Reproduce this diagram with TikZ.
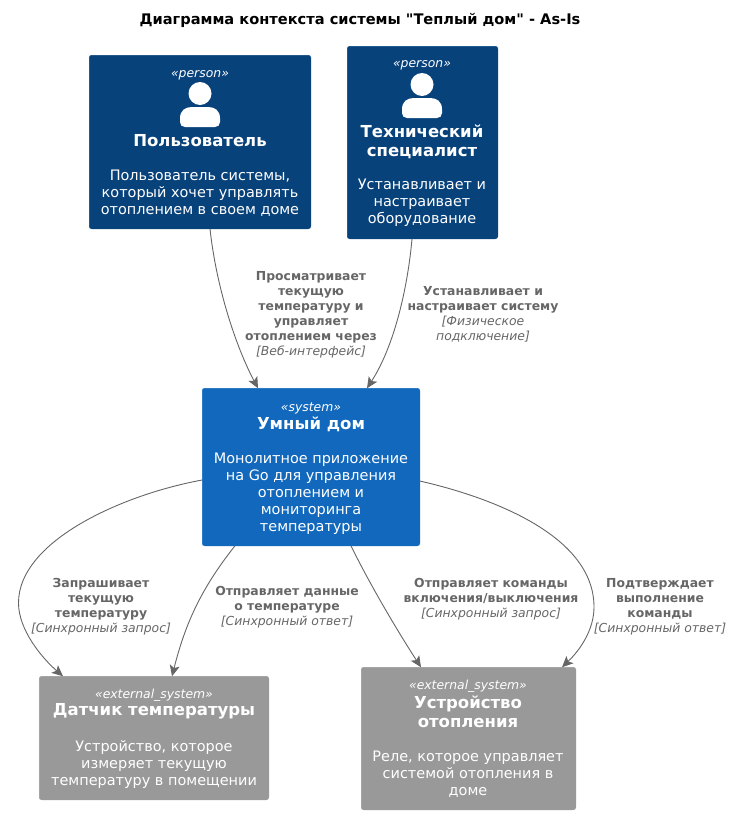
\documentclass[tikz,border=0pt]{standalone}
\usepackage{fontspec}
\setmainfont{DejaVu Sans}
\newfontfamily\headfont{DejaVu Sans}
\usetikzlibrary{arrows.meta}
\definecolor{personc}{HTML}{08427B}
\definecolor{systemc}{HTML}{1168BD}
\definecolor{extc}{HTML}{999999}
\definecolor{linkc}{HTML}{666666}
\tikzset{
  x=1pt,y=-1pt,
  box/.style={rectangle,rounded corners=2.5pt,inner sep=0pt,outer sep=0pt,draw=#1,fill=#1,line width=0.5pt},
  stereo/.style={font=\fontsize{12.4}{14}\selectfont\itshape,text=white,inner sep=0pt,anchor=center},
  title/.style={font=\fontsize{16.5}{19}\selectfont\bfseries,text=white,inner sep=0pt,align=center,anchor=center},
  descr/.style={font=\fontsize{14.45}{17}\selectfont,text=white,inner sep=0pt,align=center,anchor=center},
  link/.style={draw=linkc,line width=0.9pt,-{Stealth[length=11pt,width=10pt,inset=2.5pt,fill=linkc]}},
  lbl/.style={font=\fontsize{12.4}{15}\selectfont,text=linkc,inner sep=0pt,align=center,anchor=center},
  heading/.style={font=\headfont\fontsize{14.6}{17}\selectfont\bfseries,text=black,inner sep=0pt,anchor=center},
  icon/.style={fill=white,draw=none},
}
\newcommand{\personicon}[2]{%
  \fill[icon] (#1,#2) circle[radius=11.5];
  \fill[icon] (#1-20,#2+25)
     .. controls (#1-20,#2+17) and (#1-15,#2+13.5) .. (#1-8,#2+13.5)
     -- (#1+8,#2+13.5)
     .. controls (#1+15,#2+13.5) and (#1+20,#2+17) .. (#1+20,#2+25)
     -- (#1+20,#2+28.5)
     .. controls (#1+20,#2+31.5) and (#1+18,#2+33.5) .. (#1+15,#2+33.5)
     -- (#1-15,#2+33.5)
     .. controls (#1-18,#2+33.5) and (#1-20,#2+31.5) .. (#1-20,#2+28.5) -- cycle;
}
\newcommand{\lb}[1]{\textbf{#1}}
\newcommand{\tc}[1]{\textit{#1}}
\begin{document}
\begin{tikzpicture}
\useasboundingbox (0,0) rectangle (733,814);
\node[heading] (head) at (360,20.5) {Диаграмма контекста системы "Теплый дом" - As-Is};

\node[box=personc,minimum width=221.5pt,minimum height=173.5pt] (user) at (200,142) {};
\node[box=personc,minimum width=150.5pt,minimum height=192.5pt] (tech) at (422.5,142.5) {};
\node[box=systemc,minimum width=217.5pt,minimum height=157.5pt] (sys) at (311,467) {};
\node[box=extc,minimum width=229.5pt,minimum height=123.5pt] (sensor) at (154,738) {};
\node[box=extc,minimum width=214.5pt,minimum height=142.5pt] (heater) at (468.5,738.5) {};

\personicon{200}{93.5}
\personicon{422}{84.5}

\node[stereo] (s1) at (200,75) {«person»};
\node[title] (t1) at (200,141) {Пользователь};
\node[descr] (d1) at (200,193) {Пользователь системы,\\который хочет управлять\\отоплением в своем доме};

\node[stereo] (s2) at (422,65.5) {«person»};
\node[title] (t2) at (422,142) {Технический\\специалист};
\node[descr] (d2) at (422,203) {Устанавливает и\\настраивает\\оборудование};

\node[stereo] (s3) at (311,408.5) {«system»};
\node[title] (t3) at (311,424.5) {Умный дом};
\node[descr] (d3) at (311,494) {Монолитное приложение\\на Go для управления\\отоплением и\\мониторинга\\температуры};

\node[stereo] (s4) at (154,695.5) {«external\_system»};
\node[title] (t4) at (154,711) {Датчик температуры};
\node[descr] (d4) at (154,765) {Устройство, которое\\измеряет текущую\\температуру в помещении};

\node[stereo] (s5) at (468,686.5) {«external\_system»};
\node[title] (t5) at (468,712) {Устройство\\отопления};
\node[descr] (d5) at (468,774.5) {Реле, которое управляет\\системой отопления в\\доме};

\draw[link] ([xshift=10]user.south) .. controls (216,285) and (235,345) .. ([xshift=-53]sys.north);
\draw[link] ([xshift=-10.5]tech.south) .. controls (408,285) and (395,345) .. ([xshift=56]sys.north);
\draw[link] ([yshift=-13]sys.west) .. controls (125,494) and (18.5,540) .. (18.5,603) .. controls (18.5,630) and (42,658) .. ([xshift=-91]sensor.north);
\draw[link] ([xshift=-76]sys.south) .. controls (200,590) and (185,625) .. ([xshift=18]sensor.north);
\draw[link] ([xshift=40]sys.south) .. controls (370,585) and (400,635) .. ([xshift=-47.5]heater.north);
\draw[link] ([yshift=-14]sys.east) .. controls (490,497) and (594,535) .. (594,607) .. controls (594,630) and (580,650) .. ([xshift=93.5]heater.north);

\node[lbl] (l1) at (311,314.5) {\lb{Просматривает}\\\lb{текущую}\\\lb{температуру и}\\\lb{управляет}\\\lb{отоплением через}\\\tc{[Веб-интерфейс]}};
\node[lbl] (l2) at (483,314.5) {\lb{Устанавливает и}\\\lb{настраивает систему}\\\tc{[Физическое}\\\tc{подключение]}};
\node[lbl] (l3) at (101,607) {\lb{Запрашивает}\\\lb{текущую}\\\lb{температуру}\\\tc{[Синхронный запрос]}};
\node[lbl] (l4) at (287,607) {\lb{Отправляет данные}\\\lb{о температуре}\\\tc{[Синхронный ответ]}};
\node[lbl] (l5) at (491,599.5) {\lb{Отправляет команды}\\\lb{включения/выключения}\\\tc{[Синхронный запрос]}};
\node[lbl] (l6) at (660,607) {\lb{Подтверждает}\\\lb{выполнение}\\\lb{команды}\\\tc{[Синхронный ответ]}};
\end{tikzpicture}
\end{document}
